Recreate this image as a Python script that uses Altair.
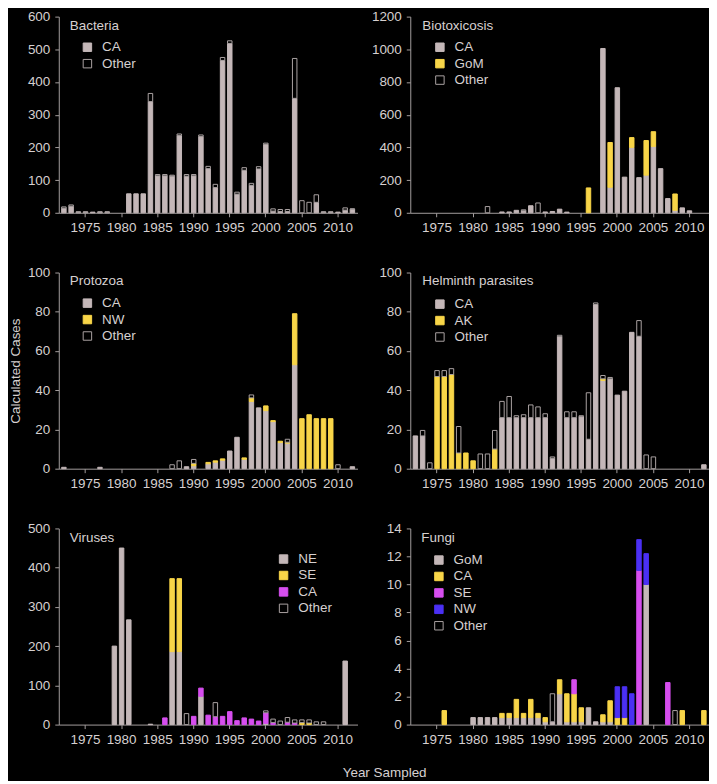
import altair as alt
import pandas as pd

years = list(range(1972, 2013))
tick_years = [1975, 1980, 1985, 1990, 1995, 2000, 2005, 2010]

# ---------------- data (1972 ... 2012, one value per year) ----------------
bact_ca = [14, 20, 2, 2, 2, 2, 2, 0, 0, 58,
           58, 58, 340, 113, 113, 112, 236, 112, 113, 233,
           135, 77, 466, 518, 57, 130, 84, 134, 209, 5,
           4, 4, 350, 0, 0, 32, 2, 2, 2, 8,
           11]
bact_other = [4, 4, 1, 1, 0, 1, 1, 0, 0, 0,
              0, 0, 25, 4, 4, 3, 5, 5, 4, 5,
              7, 10, 9, 8, 6, 8, 6, 7, 4, 7,
              6, 6, 122, 37, 32, 23, 1, 1, 0, 7,
              1]

bio_ca = [0, 0, 0, 0, 0, 0, 0, 0, 0, 0,
          0, 0, 5, 5, 15, 12, 43, 0, 5, 8,
          22, 4, 0, 0, 0, 0, 1005, 156, 765, 218,
          400, 215, 230, 406, 270, 87, 15, 30, 12, 0,
          0]
bio_gom = [0, 0, 0, 0, 0, 0, 0, 0, 0, 0,
           0, 0, 0, 0, 0, 0, 0, 0, 0, 0,
           0, 0, 0, 0, 152, 0, 0, 274, 0, 0,
           60, 0, 212, 90, 0, 0, 100, 0, 0, 0,
           0]
bio_other = [0, 0, 0, 0, 0, 0, 0, 0, 0, 0,
             38, 0, 0, 0, 0, 6, 0, 60, 0, 0,
             0, 0, 0, 0, 0, 0, 0, 0, 0, 0,
             0, 0, 0, 0, 0, 0, 0, 0, 0, 0,
             0]

pro_ca = [0.7, 0, 0, 0, 0, 0.7, 0, 0, 0, 0,
          0, 0, 0, 0, 0, 0, 0, 1, 1.5, 0,
          2.5, 3.3, 4.3, 9, 16, 4.8, 34.3, 31, 29.6, 24,
          13.3, 13, 53, 0, 0, 0, 0, 0, 0, 0,
          1]
pro_nw = [0, 0, 0, 0, 0, 0, 0, 0, 0, 0,
          0, 0, 0, 0, 0, 0, 0, 0, 1.2, 0,
          0.7, 0.7, 0.7, 0, 0, 0.7, 1.8, 0, 2.4, 0.5,
          0.7, 0.5, 26, 25.5, 27.5, 25.5, 25.5, 25.5, 0, 0,
          0]
pro_other = [0, 0, 0, 0, 0, 0, 0, 0, 0, 0,
             0, 0, 0, 0, 0, 2, 4, 0, 2, 0,
             0, 0, 0, 0, 0, 0, 1.5, 0, 0, 0,
             0, 1.5, 0, 0, 0, 0, 0, 0, 2, 0,
             0]

hel_ca = [16.7, 16.7, 0, 0, 0, 0, 0, 0, 0, 0,
          0, 0, 26, 26, 26, 26, 26, 26, 26, 5.3,
          67.3, 26, 26, 26.5, 15, 83.7, 45, 45.8, 37.5, 39.5,
          69.5, 67.5, 0, 0, 0, 0, 0, 0, 0, 0,
          2]
hel_ak = [0, 0, 0, 47, 47, 48, 8, 8, 4, 0,
          0, 10, 0, 0, 0, 0, 0, 0, 0, 0,
          0, 0, 0, 0, 0, 0, 0.8, 0, 0, 0,
          0, 0, 0, 0, 0, 0, 0, 0, 0, 0,
          0]
hel_other = [0, 2.8, 3, 3, 3, 3, 13.5, 0, 0, 7.5,
             7.5, 9.5, 8.3, 10.8, 1, 1.5, 6.5, 5.5, 2, 0.7,
             0.7, 3, 3, 0.5, 23.7, 0.8, 1.7, 0.7, 0, 0,
             0, 8, 7, 6, 0, 0, 0, 0, 0, 0,
             0]

vir_ne = [0, 0, 0, 0, 0, 0, 0, 200, 450, 267,
          0, 0, 1, 0, 0, 186, 186, 0, 0, 72,
          0, 0, 0, 0, 0, 0, 0, 0, 3, 0,
          0, 0, 0, 0, 0, 0, 0, 0, 0, 162,
          0]
vir_se = [0, 0, 0, 0, 0, 0, 0, 0, 0, 0,
          0, 0, 0, 0, 0, 186, 186, 0, 0, 0,
          0, 0, 0, 0, 0, 0, 0, 0, 0, 0,
          0, 0, 0, 5, 4, 0, 0, 0, 0, 0,
          0]
vir_ca = [0, 0, 0, 0, 0, 0, 0, 0, 0, 0,
          0, 0, 0, 0, 17, 0, 0, 0, 21, 21,
          24, 20, 21, 33, 10, 17, 14, 9, 27, 5,
          0, 6, 4, 0, 0, 0, 0, 0, 0, 0,
          0]
vir_other = [0, 0, 0, 0, 0, 0, 0, 0, 0, 0,
             0, 0, 0, 0, 0, 0, 0, 28, 0, 0,
             0, 36, 0, 0, 0, 0, 0, 0, 5, 9,
             9, 12, 8, 7, 8, 7, 7, 0, 0, 0,
             0]

fun_gom = [0, 0, 0, 0, 0, 0, 0, 0, 0.5, 0.5,
           0.5, 0.5, 0.5, 0.5, 0.5, 0.5, 0.5, 0.5, 0.2, 0.2,
           2.2, 0.2, 0.2, 0.2, 1.2, 0.2, 0.2, 0.2, 0, 0,
           0, 0, 10, 0, 0, 0, 0, 0, 0, 0,
           0]
fun_ca = [0, 0, 0, 0, 1, 0, 0, 0, 0, 0,
          0, 0, 0.3, 0.3, 1.3, 0.3, 1.3, 0.3, 0.3, 0,
          1.0, 2.0, 2.0, 1.0, 0, 0, 0.5, 1.5, 0.5, 0.5,
          0, 0, 0, 0, 0, 0, 0, 1, 0, 0,
          1]
fun_se = [0, 0, 0, 0, 0, 0, 0, 0, 0, 0,
          0, 0, 0, 0, 0, 0, 0, 0, 0, 0,
          0, 0, 1.0, 0, 0, 0, 0, 0, 0, 0,
          0, 11, 0, 0, 0, 3, 0, 0, 0, 0,
          0]
fun_nw = [0, 0, 0, 0, 0, 0, 0, 0, 0, 0,
          0, 0, 0, 0, 0, 0, 0, 0, 0, 0,
          0, 0, 0, 0, 0, 0, 0, 0, 2.2, 2.2,
          2.2, 2.2, 2.2, 0, 0, 0, 0, 0, 0, 0,
          0]
fun_other = [0, 0, 0, 0, 0, 0, 0, 0, 0, 0,
             0, 0, 0, 0, 0, 0, 0, 0, 0, 2.0,
             0, 0, 0, 0, 0, 0, 0, 0, 0, 0,
             0, 0, 0, 0, 0, 0, 1, 0, 0, 0,
             0]

# ---------------- styling ----------------
GREY = "#c4b7b8"
YEL = "#f8d548"
MAG = "#d64eee"
BLUE = "#4b30f4"
OTHER_FILL = "#000000"
OTHER_STROKE = "#aaa2a2"
TXT = "#d6d0d0"
AXIS = "#a39d9d"
FONT = "Liberation Sans"
FS = 13.5
W, H = 300, 197


def panel(name, series, colors, ymax, ystep, title_xy, legend_xy, ytitle=None):
    rows = []
    for k, (src, vals) in enumerate(series):
        for yr, v in zip(years, vals):
            if v > 0:
                rows.append({"year": yr, "src": src, "val": v, "ord": k})
    df = pd.DataFrame(rows)
    names = [s[0] for s in series]
    fills = [OTHER_FILL if n == "Other" else c for n, c in zip(names, colors)]
    strokes = [OTHER_STROKE if n == "Other" else c for n, c in zip(names, colors)]

    leg = alt.Legend(
        orient="none", legendX=legend_xy[0], legendY=legend_xy[1], title=None,
        symbolType="square", symbolSize=72, symbolStrokeWidth=1,
        labelFontSize=FS, labelFont=FONT, labelColor=TXT, labelOffset=8,
        rowPadding=1.5, padding=0,
    )
    yaxis_kw = dict(
        values=list(range(0, ymax + 1, ystep)), grid=False, tickSize=4, format="d",
        labelPadding=5, labelFontSize=FS, labelFont=FONT, labelColor=TXT,
        domainColor=AXIS, tickColor=AXIS, labelOverlap=False,
    )
    if ytitle:
        yaxis_kw.update(title=ytitle, titleFontSize=FS, titleFont=FONT,
                        titleColor=TXT, titleFontWeight="normal", titlePadding=5)
    else:
        yaxis_kw.update(title=None)

    bars = alt.Chart(df).mark_bar(strokeWidth=1).encode(
        x=alt.X("year:O",
                scale=alt.Scale(domain=years, paddingInner=0.38, paddingOuter=0.4),
                axis=alt.Axis(values=tick_years, title=None, labelAngle=0,
                              tickSize=4, labelPadding=4, labelFontSize=FS,
                              labelFont=FONT, labelColor=TXT, domainColor=AXIS,
                              tickColor=AXIS, labelOverlap=False, grid=False)),
        y=alt.Y("val:Q", stack="zero",
                scale=alt.Scale(domain=[0, ymax], nice=False),
                axis=alt.Axis(**yaxis_kw)),
        fill=alt.Fill("src:N", scale=alt.Scale(domain=names, range=fills), legend=leg),
        stroke=alt.Stroke("src:N", scale=alt.Scale(domain=names, range=strokes), legend=leg),
        order=alt.Order("ord:Q", sort="ascending"),
    )
    label = alt.Chart(pd.DataFrame({"t": [name]})).mark_text(
        align="left", baseline="middle", fontSize=FS, font=FONT, color=TXT
    ).encode(text="t:N", x=alt.value(title_xy[0]), y=alt.value(title_xy[1]))
    return alt.layer(bars, label).properties(width=W, height=H)


p1 = panel("Bacteria", [("CA", bact_ca), ("Other", bact_other)],
           [GREY, GREY], 600, 100, (11, 9), (22, 24))
p2 = panel("Biotoxicosis", [("CA", bio_ca), ("GoM", bio_gom), ("Other", bio_other)],
           [GREY, YEL, GREY], 1200, 200, (12, 9), (23, 24))
p3 = panel("Protozoa", [("CA", pro_ca), ("NW", pro_nw), ("Other", pro_other)],
           [GREY, YEL, GREY], 100, 20, (11, 9), (22, 24), ytitle="Calculated Cases")
p4 = panel("Helminth parasites", [("CA", hel_ca), ("AK", hel_ak), ("Other", hel_other)],
           [GREY, YEL, GREY], 100, 20, (12, 9), (23, 25))
p5 = panel("Viruses", [("NE", vir_ne), ("SE", vir_se), ("CA", vir_ca), ("Other", vir_other)],
           [GREY, YEL, MAG, GREY], 500, 100, (11, 10), (219, 24))
p6 = panel("Fungi", [("GoM", fun_gom), ("CA", fun_ca), ("SE", fun_se), ("NW", fun_nw),
                     ("Other", fun_other)],
           [GREY, YEL, MAG, BLUE, GREY], 14, 2, (11, 10), (22, 25))

chart = alt.concat(
    p1, p2, p3, p4, p5, p6,
    columns=2,
    spacing={"row": 60, "column": 53},
    bounds="flush",
    title=alt.TitleParams("Year Sampled", orient="bottom", anchor="middle",
                          dx=26, offset=20, fontSize=FS, font=FONT, color=TXT,
                          fontWeight="normal"),
).resolve_scale(
    fill="independent", stroke="independent", x="independent", y="independent"
).resolve_legend(
    fill="independent", stroke="independent"
).properties(padding=0).configure(background="black").configure_view(strokeWidth=0)

chart.save("out.html", embed_options={"renderer": "svg", "actions": False})
